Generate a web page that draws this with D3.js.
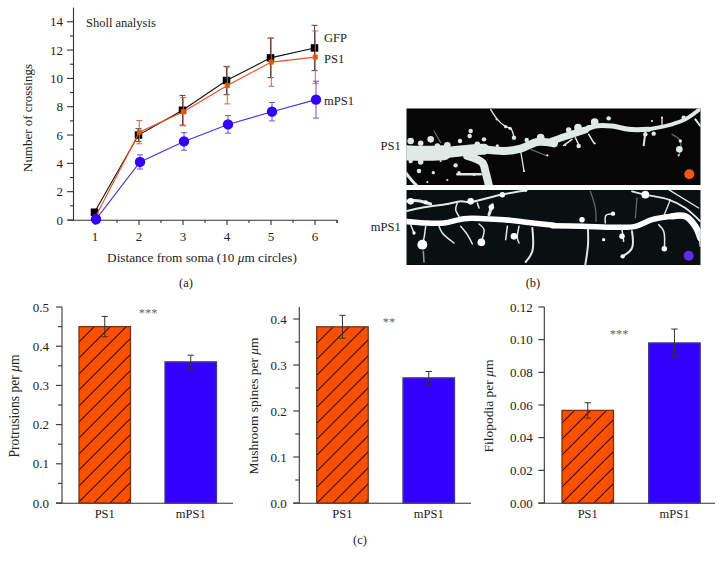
<!DOCTYPE html>
<html><head><meta charset="utf-8">
<script src="https://cdn.jsdelivr.net/npm/d3@7/dist/d3.min.js"></script>
<style>
html,body{margin:0;padding:0;background:#fff}
svg{display:block}
text{font-family:"Liberation Serif",serif;fill:#222}
</style></head><body>
<svg id="c" width="724" height="566"></svg>
<script>
// ---- Sholl analysis data
const distances = [1,2,3,4,5,6];
const gfp      = [0.55,6.0,7.75,9.85,11.45,12.15];
const gfpErr   = [0.1,0.45,1.05,1.0,1.4,1.6];
const ps1      = [0.2,6.2,7.65,9.5,11.15,11.5];
const ps1Err   = [0.1,0.82,1.0,1.3,1.7,1.85];
const mps1     = [0.05,4.1,5.55,6.75,7.65,8.5];
const mps1Err  = [0,0.5,0.62,0.62,0.65,1.3];
const shollTicks = [0,2,4,6,8,10,12,14];
// ---- Bar panels data
const barCategories = ["PS1","mPS1"];
const protrusions = [0.45,0.36];
const protrusionsErr = [0.026,0.017];
const mushroom = [0.383,0.272];
const mushroomErr = [0.025,0.014];
const filopodia = [0.0567,0.098];
const filopodiaErr = [0.0047,0.0085];
const protrusionTicks = [0,0.1,0.2,0.3,0.4,0.5];
const mushroomTicks = [0,0.1,0.2,0.3,0.4];
const filopodiaTicks = [0,0.02,0.04,0.06,0.08,0.1,0.12];
// ---- Micrograph sketch strokes: [width, colour, points]; blobs: [x,y,r]
const L="#dfe9e6", W="#ffffff", G="#666", G2="#999";
const psLeftStrokes = [
 [15,L,[[0,140],[60,142],[120,140]]],[11,L,[[120,140],[200,132],[240,130]]],[8,L,[[240,130],[300,135],[350,128],[400,108],[450,112]]],
 [8,L,[[190,150],[235,170],[245,200],[255,240]]],[3,L,[[5,200],[25,225],[45,246]]],[2.5,L,[[160,205],[230,205]]],
 [1.3,L,[[260,10],[280,40],[305,62],[320,67],[330,95]]],[1.3,G,[[90,75],[110,110]]],[1.3,L,[[350,135],[360,195]]],[1.3,G,[[380,130],[430,150]]]];
const psLeftBlobs = [[50,168,5],[45,195,4],[88,200,3],[155,178,4],[165,200,3],[210,205,3],[130,222,2],[70,228,2],[20,165,4],[110,165,2],
 [80,100,6],[20,105,6],[50,112,5],[130,118,6],[168,105,4],[200,75,4],[197,90,4],[240,100,4],[330,95,4],[368,102,4],[410,95,7],[305,62,3],[318,67,3],[278,40,2],[360,195,2],[430,148,2],[100,120,5],[220,115,5],[280,120,3]];
const psRightStrokes = [
 [7,L,[[0,105],[50,88],[100,72]]],[5,L,[[100,72],[130,60],[180,60],[230,70],[290,70]]],[4,L,[[290,70],[360,55],[400,40],[440,12]]],
 [1.5,L,[[60,100],[35,118]]],[1.5,L,[[110,85],[125,110]]],[1.5,L,[[70,95],[82,120]]],[2,L,[[280,80],[275,118]]],[1.3,L,[[330,60],[330,35]]],
 [1.3,G,[[360,85],[385,105],[382,145]]],[2,L,[[430,40],[445,60]]]];
const psRightBlobs = [[50,72,5],[78,65,7],[128,48,7],[170,37,4],[300,45,2],[330,35,2],[395,35,4],[280,85,4],[305,83,4],[385,105,3],[382,130,6],[380,148,2],[80,120,4],[128,112,2],[40,117,2],[110,65,5]];
const mpLeftStrokes = [
 [5.5,W,[[0,100],[60,105],[120,105],[180,92],[240,92],[300,95],[360,102],[450,112]]],
 [2,L,[[5,70],[60,58],[130,48],[170,40],[200,42],[290,20],[360,8]]],[3,L,[[5,40],[40,38],[80,48]]],
 [1.5,L,[[160,45],[155,65],[165,85]]],[1.5,L,[[220,45],[225,60]]],[3,L,[[255,80],[265,50]]],
 [1.5,L,[[20,110],[30,135]]],[1.5,L,[[65,115],[60,150],[55,170]]],[1.5,G2,[[58,190],[60,222]]],[1.5,L,[[105,115],[115,135],[150,165]]],
 [1.5,L,[[170,115],[190,140],[205,168]]],[1.5,L,[[225,108],[240,125],[232,160]]],[1.5,L,[[310,115],[305,155]]],[1.5,L,[[345,115],[340,150],[345,165]]],[2,L,[[385,120],[385,190],[365,222]]]];
const mpLeftBlobs = [[20,40,6],[65,43,4],[200,40,6],[295,20,5],[365,7,3],[262,58,5],[30,135,3],[55,170,9],[232,163,7],[330,145,6]];
const mpRightStrokes = [
 [5.5,W,[[0,113],[90,115],[200,118],[250,115],[300,95],[360,85]]],[6.5,W,[[360,85],[400,85],[430,115],[445,150]]],
 [1.5,L,[[160,105],[162,82],[183,77]]],[2,L,[[108,125],[108,170],[100,230]]],[1.3,G,[[115,10],[130,60],[132,100]]],
 [1.5,L,[[210,125],[215,160]]],[2,L,[[240,130],[240,180],[212,205]]],[1.5,L,[[320,110],[335,130],[337,182]]],
 [1.8,L,[[240,10],[280,20],[350,35],[400,60],[445,100]]],[1.3,L,[[355,35],[335,85]]],[1.3,G,[[255,30],[250,90]]],[1.3,L,[[350,5],[440,60]]],[1.5,L,[[440,130],[445,175]]]];
const mpRightBlobs = [[90,95,5],[183,77,4],[212,205,4],[155,155,3],[337,182,5],[280,20,7],[210,145,5]];

const ORANGE="#ff5000", BLUE="#3300ff", INK="#222";
const svg=d3.select("#c");
const defs=svg.append("defs");
function hatch(id,phase){
  const pat=defs.append("pattern").attr("id",id).attr("patternUnits","userSpaceOnUse").attr("width",16).attr("height",16)
    .attr("patternTransform",`translate(${phase},0)`);
  pat.append("rect").attr("width",16).attr("height",16).attr("fill",ORANGE);
  [[0,16,16,0],[-2,2,2,-2],[14,18,18,14]].forEach(l=>pat.append("line").attr("x1",l[0]).attr("y1",l[1]).attr("x2",l[2]).attr("y2",l[3])
    .attr("stroke","#2a1000").attr("stroke-width",1.1));
  return `url(#${id})`;
}
defs.append("filter").attr("id","soft").append("feGaussianBlur").attr("stdDeviation",0.7);

function label(x,y,t,o={}){
  const s=svg.append("text").attr("x",x).attr("y",y).attr("text-anchor",o.anchor||"middle")
    .attr("font-size",o.size||12.5).text(t);
  if(o.rotate) s.attr("transform",`rotate(-90 ${x} ${y})`);
  if(o.color) s.style("fill",o.color);
  if(o.fit) fit(s,o.fit);
  return s;
}
function fit(s,target){
  const size=+s.attr("font-size");
  s.attr("font-size",(size*target/s.node().getComputedTextLength()).toFixed(2));
}
function muLabel(x,y,pre,post,o={}){
  const s=label(x,y,"",{...o,fit:null});
  s.append("tspan").text(pre);
  s.append("tspan").attr("font-style","italic").text("\u03bc");
  s.append("tspan").text(post);
  if(o.fit) fit(s,o.fit);
}
function axisLine(x1,y1,x2,y2,w=1.1){
  svg.append("line").attr("x1",x1).attr("y1",y1).attr("x2",x2).attr("y2",y2).attr("stroke","#333").attr("stroke-width",w);
}

// ---- (a) Sholl
{
  const x=d3.scaleLinear().domain([0.5,6.5]).range([73,337]);
  const y=d3.scaleLinear().domain([0,15]).range([220,7.6]);
  axisLine(73.5,y(15),73.5,220);
  axisLine(68,220.3,337,220.3);
  d3.range(0,15).forEach(v=>{
    const maj=v%2===0;
    axisLine(maj?67:70,y(v),73.5,y(v));
  });
  shollTicks.forEach(v=>label(63,y(v)+4.5,v,{anchor:"end",size:13}));
  d3.range(1,7,0.5).concat([6.5]).forEach(v=>{
    const maj=Number.isInteger(v);
    axisLine(x(v),220,x(v),maj?225:223);
  });
  distances.forEach(v=>label(x(v),241,v,{size:13}));
  const series=[
   {vals:gfp,err:gfpErr,col:"#000",line:"#111",bar:"#444",dx:-0.5,shape:"sq",s:7.5},
   {vals:ps1,err:ps1Err,col:ORANGE,line:"#e8501e",bar:"#e0603a",dx:0.3,shape:"sq",s:5},
   {vals:mps1,err:mps1Err,col:BLUE,line:"#4a30e0",bar:"#6a55d8",dx:1,shape:"c",s:5.2}];
  series.forEach(s=>{
    const g=svg.append("g");
    const px=d=>x(d)+s.dx;
    s.vals.forEach((v,i)=>{
      if(s.err[i]<0.2) return;
      const xx=px(distances[i]);
      g.append("line").attr("x1",xx).attr("x2",xx).attr("y1",y(v-s.err[i])).attr("y2",y(v+s.err[i])).attr("stroke",s.bar).attr("stroke-width",1);
      [v-s.err[i],v+s.err[i]].forEach(e=>g.append("line").attr("x1",xx-3).attr("x2",xx+3).attr("y1",y(e)).attr("y2",y(e)).attr("stroke",s.bar).attr("stroke-width",1));
    });
    g.append("path").attr("d",d3.line().x((d,i)=>px(distances[i])).y(d=>y(d))(s.vals)).attr("fill","none")
      .attr("stroke",s.line).attr("stroke-width",1.1);
    s.vals.forEach((v,i)=>{
      if(s.shape==="sq") g.append("rect").attr("x",px(distances[i])-s.s/2).attr("y",y(v)-s.s/2).attr("width",s.s).attr("height",s.s).attr("fill",s.col);
      else g.append("circle").attr("cx",px(distances[i])).attr("cy",y(v)).attr("r",s.s).attr("fill",s.col);
    });
  });
  label(86,27,"Sholl analysis",{anchor:"start",size:12.5});
  label(324,42,"GFP",{anchor:"start",size:12.5});
  label(324,63,"PS1",{anchor:"start",size:12.5});
  label(324,105,"mPS1",{anchor:"start",size:12.5});
  muLabel(202,262,"Distance from soma (10 ","m circles)",{size:13,fit:190});
  label(32,118,"Number of crossings",{rotate:true,size:13,fit:108});
  label(186,287,"(a)",{size:12.5});
}

// ---- (b) micrographs
function micrograph(id,rx,ry,rw,rh,bg,crops,dot){
  defs.append("clipPath").attr("id",id).append("rect").attr("x",rx).attr("y",ry).attr("width",rw).attr("height",rh);
  const g=svg.append("g").attr("clip-path",`url(#${id})`);
  g.append("rect").attr("x",rx).attr("y",ry).attr("width",rw).attr("height",rh).attr("fill",bg);
  const art=g.append("g").attr("filter","url(#soft)");
  crops.forEach(c=>{
    const sx=d3.scaleLinear().domain([0,3]).range([c.ox,c.ox+1]);
    const sy=d3.scaleLinear().domain([0,3]).range([c.oy,c.oy+1]);
    const line=d3.line().x(d=>sx(d[0])).y(d=>sy(d[1])).curve(d3.curveCatmullRom);
    c.strokes.forEach(s=>art.append("path").attr("d",line(s[2])).attr("fill","none").attr("stroke",s[1]).attr("stroke-width",s[0]).attr("stroke-linecap","round"));
    c.blobs.forEach(b=>art.append("circle").attr("cx",sx(b[0])).attr("cy",sy(b[1])).attr("r",b[2]*0.55).attr("fill",c.col));
  });
  g.append("circle").attr("cx",dot[0]).attr("cy",dot[1]).attr("r",5).attr("fill",dot[2]);
}
micrograph("ps",406.3,108.3,294.4,76.7,"#060606",[
  {ox:404,oy:106,strokes:psLeftStrokes,blobs:psLeftBlobs,col:L},
  {ox:552,oy:106,strokes:psRightStrokes,blobs:psRightBlobs,col:L}],[689.3,174.3,"#f4551a"]);
micrograph("mp",406.3,190,294.4,75,"#0a1012",[
  {ox:404,oy:188,strokes:mpLeftStrokes,blobs:mpLeftBlobs,col:W},
  {ox:552,oy:188,strokes:mpRightStrokes,blobs:mpRightBlobs,col:W}],[688.7,255.7,"#5a30ee"]);
label(400.7,150,"PS1",{anchor:"end",size:12.5});
label(400.7,231,"mPS1",{anchor:"end",size:12.5});
label(533,287,"(b)",{size:12.5});

// ---- (c) bars
function barPanel(p){
  const y=d3.scaleLinear().domain([0,p.top]).range([503,p.topY]);
  axisLine(p.ax,307,p.ax,503);
  axisLine(p.ax-6,503.2,p.end,503.2);
  p.minors.forEach(v=>axisLine(p.ax-4,y(v),p.ax,y(v)));
  p.ticks.forEach(v=>{
    axisLine(p.ax-6,y(v),p.ax,y(v));
    label(p.ax-p.gap,y(v)+4.5,d3.format(p.fmt)(v),{anchor:"end",size:13});
  });
  const fill=hatch(p.hid,p.phase);
  barCategories.forEach((c,i)=>{
    const bx=p.bars[i], w=p.bw;
    svg.append("rect").attr("x",bx).attr("y",y(p.vals[i])).attr("width",w).attr("height",503-y(p.vals[i]))
      .attr("fill",i===0?fill:BLUE).attr("stroke",i===0?"#74321a":"#3a3a90").attr("stroke-width",1.3);
    const cx=bx+w/2, e=p.err[i];
    axisLine(cx,y(p.vals[i]-e),cx,y(p.vals[i]+e),1);
    [p.vals[i]-e,p.vals[i]+e].forEach(v=>axisLine(cx-3.2,y(v),cx+3.2,y(v),1));
    label(cx,518,c,{size:12.5});
  });
  muLabel(p.lx,p.ly,p.title+" per ","m",{rotate:true,size:13,fit:p.len});
  label(p.sx,p.sy,p.stars,{size:12.5,color:"#666"});
}
const step=(a,b,s)=>d3.range(a,b+s/2,s);
barPanel({ax:62,end:233,top:0.5,topY:307,vals:protrusions,err:protrusionsErr,ticks:protrusionTicks,minors:step(0.05,0.45,0.1),fmt:".1f",
  bars:[79,165],bw:51.5,title:"Protrusions",lx:19,ly:406,len:103,gap:13,stars:"***",sx:148,sy:317,hid:"h1",phase:5});
barPanel({ax:299.3,end:471,top:0.4,topY:319,vals:mushroom,err:mushroomErr,ticks:mushroomTicks,minors:step(0.05,0.35,0.1),fmt:".1f",
  bars:[316.7,403],bw:51.5,title:"Mushroom spines",lx:258,ly:406,len:137,gap:12.5,stars:"**",sx:389,sy:326,hid:"h2",phase:4});
barPanel({ax:544.3,end:715,top:0.12,topY:307,vals:filopodia,err:filopodiaErr,ticks:filopodiaTicks,minors:[],fmt:".2f",
  bars:[562,648.7],bw:51.5,title:"Filopodia",lx:493,ly:406,len:93,gap:11.5,stars:"***",sx:619,sy:338,hid:"h3",phase:9});
label(360,544,"(c)",{size:12.5});
</script>
</body></html>
